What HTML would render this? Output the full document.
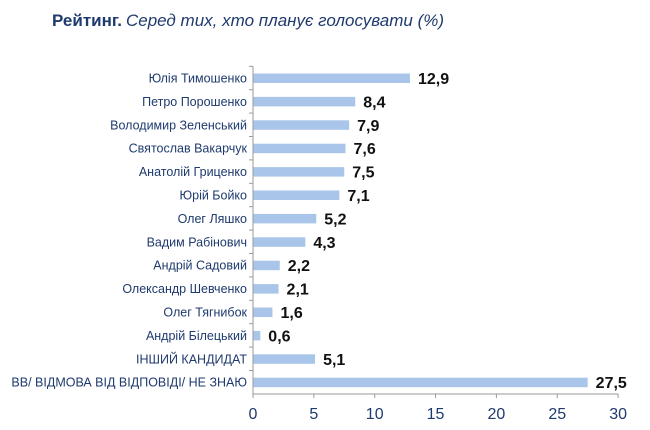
<!DOCTYPE html>
<html><head><meta charset="utf-8"><style>
body{margin:0;background:#fff;}
svg{display:block;font-family:"Liberation Sans",sans-serif;}
</style></head><body>
<svg width="650" height="430" xmlns="http://www.w3.org/2000/svg">
<text x="52" y="26" font-size="17" fill="#1f3a6e"><tspan font-weight="bold">Рейтинг.</tspan><tspan font-style="italic" dx="4">Серед тих, хто планує голосувати (%)</tspan></text>
<g id="c"></g>
</svg>
<script>
const d=[["Юлія Тимошенко",12.9],["Петро Порошенко",8.4],["Володимир Зеленський",7.9],["Святослав Вакарчук",7.6],["Анатолій Гриценко",7.5],["Юрій Бойко",7.1],["Олег Ляшко",5.2],["Вадим Рабінович",4.3],["Андрій Садовий",2.2],["Олександр Шевченко",2.1],["Олег Тягнибок",1.6],["Андрій Білецький",0.6],["ІНШИЙ КАНДИДАТ",5.1],["ВВ/ ВІДМОВА ВІД ВІДПОВІДІ/ НЕ ЗНАЮ",27.5]];
const x0=253,s=12.17,y0=78,dy=23.4;let h='';
d.forEach((r,i)=>{const y=y0+i*dy;const w=r[1]*s;
h+=`<rect x="${x0}" y="${y-4.5}" width="${w}" height="9.5" fill="#a9c6ea"/>`;
h+=`<text x="247" y="${y+4.5}" font-size="12.5" fill="#1f3a6e" text-anchor="end">${r[0]}</text>`;
h+=`<text x="${x0+w+8}" y="${y+6}" font-size="16" font-weight="bold" fill="#111">${r[1].toFixed(1).replace('.',',')}</text>`;
h+=`<line x1="249" x2="${x0}" y1="${y-dy/2}" y2="${y-dy/2}" stroke="#999"/>`;});
h+=`<line x1="${x0}" x2="${x0}" y1="${y0-dy/2}" y2="394" stroke="#999"/>`;
h+=`<line x1="${x0}" x2="618" y1="394" y2="394" stroke="#999"/>`;
for(let t=0;t<=30;t+=5){const x=x0+t*s;h+=`<line x1="${x}" x2="${x}" y1="394" y2="398" stroke="#999"/><text x="${x}" y="419" font-size="16" fill="#1f3a6e" text-anchor="middle">${t}</text>`;}
document.getElementById('c').innerHTML=h;
</script>
</body></html>
